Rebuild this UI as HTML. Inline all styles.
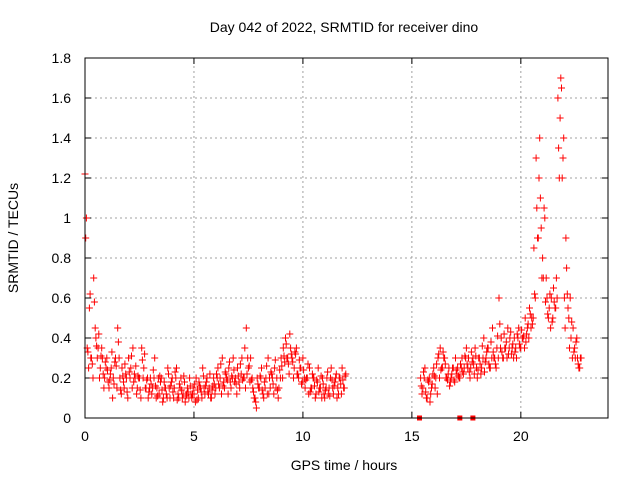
<!DOCTYPE html>
<html><head><meta charset="utf-8">
<style>
html,body{margin:0;padding:0;background:#fff;}
svg{display:block;font-family:"Liberation Sans",sans-serif;}
</style></head>
<body>
<svg id="chart" width="640" height="480" viewBox="0 0 640 480" xmlns="http://www.w3.org/2000/svg">
<rect x="0" y="0" width="640" height="480" fill="#fff"/>
<text x="344" y="32" font-size="14" text-anchor="middle" fill="#000">Day 042 of 2022, SRMTID for receiver dino</text>
<text transform="translate(18,238) rotate(-90)" font-size="14" text-anchor="middle" fill="#000">SRMTID / TECUs</text>
<text x="344" y="470" font-size="14" text-anchor="middle" fill="#000">GPS time / hours</text>
<g id="grid"></g>
<g id="ticks"></g>
<g id="marks"></g>
<rect x="85" y="58" width="523" height="360" fill="none" stroke="#000" stroke-width="1"/>
</svg>
<script>
const xTicks=[0,5,10,15,20];
const yTicks=[0,0.2,0.4,0.6,0.8,1,1.2,1.4,1.6,1.8];
const yTickLabels=["0","0.2","0.4","0.6","0.8","1","1.2","1.4","1.6","1.8"];
const seg1Start=0, seg2Start=15.4, step=0.1;
const seg1Hi=[1.22,0.35,0.55,0.3,0.7,0.4,0.35,0.25,0.3,0.2,0.3,0.15,0.25,0.2,0.3,0.45,0.2,0.25,0.15,0.2,0.3,0.25,0.35,0.2,0.15,0.2,0.35,0.25,0.15,0.1,0.2,0.15,0.3,0.15,0.12,0.2,0.1,0.15,0.25,0.1,0.2,0.15,0.25,0.1,0.2,0.12,0.08,0.15,0.2,0.1,0.12,0.2,0.1,0.15,0.25,0.12,0.2,0.15,0.1,0.2,0.15,0.25,0.2,0.3,0.15,0.2,0.25,0.15,0.3,0.2,0.25,0.15,0.3,0.2,0.45,0.25,0.3,0.15,0.1,0.2,0.15,0.25,0.1,0.2,0.3,0.15,0.2,0.25,0.2,0.15,0.3,0.35,0.4,0.3,0.42,0.3,0.25,0.35,0.2,0.25,0.3,0.15,0.2,0.25,0.15,0.2,0.12,0.25,0.15,0.2,0.1,0.2,0.15,0.25,0.12,0.2,0.15,0.2,0.25,0.15];
const seg1Lo=[1.0,0.25,0.3,0.2,0.45,0.3,0.2,0.35,0.15,0.25,0.18,0.22,0.1,0.28,0.15,0.3,0.12,0.18,0.22,0.1,0.2,0.15,0.22,0.12,0.2,0.1,0.2,0.15,0.2,0.15,0.12,0.2,0.1,0.2,0.18,0.08,0.15,0.1,0.15,0.18,0.1,0.2,0.12,0.15,0.1,0.18,0.12,0.1,0.12,0.15,0.08,0.14,0.16,0.1,0.15,0.18,0.12,0.1,0.16,0.12,0.2,0.15,0.12,0.18,0.22,0.12,0.18,0.2,0.18,0.12,0.18,0.22,0.2,0.15,0.3,0.18,0.2,0.1,0.05,0.15,0.2,0.12,0.15,0.12,0.2,0.22,0.12,0.15,0.1,0.2,0.2,0.28,0.3,0.22,0.32,0.2,0.32,0.22,0.25,0.18,0.2,0.2,0.12,0.15,0.2,0.1,0.18,0.15,0.1,0.12,0.15,0.12,0.2,0.15,0.18,0.1,0.2,0.12,0.15,0.22];
const seg1Mid=[0.9,0.33,0.62,0.27,0.58,0.36,0.42,0.31,0.22,0.28,0.24,0.19,0.33,0.17,0.26,0.38,0.14,0.21,0.27,0.13,0.23,0.31,0.18,0.26,0.21,0.14,0.29,0.32,0.19,0.13,0.17,0.24,0.16,0.11,0.21,0.14,0.18,0.12,0.22,0.16,0.13,0.23,0.09,0.17,0.14,0.21,0.11,0.13,0.16,0.12,0.17,0.09,0.18,0.13,0.21,0.16,0.13,0.22,0.14,0.17,0.22,0.17,0.27,0.16,0.23,0.19,0.28,0.21,0.24,0.17,0.21,0.27,0.19,0.35,0.22,0.26,0.19,0.13,0.08,0.17,0.21,0.14,0.18,0.26,0.12,0.23,0.17,0.29,0.14,0.24,0.26,0.31,0.37,0.27,0.35,0.28,0.33,0.22,0.29,0.17,0.24,0.19,0.27,0.13,0.22,0.16,0.19,0.13,0.21,0.17,0.14,0.23,0.11,0.19,0.16,0.22,0.12,0.17,0.19,0.21];
const seg2Hi=[0.2,0.15,0.25,0.1,0.2,0.15,0.25,0.2,0.3,0.35,0.25,0.3,0.2,0.25,0.2,0.25,0.3,0.25,0.2,0.3,0.25,0.35,0.3,0.25,0.3,0.35,0.2,0.3,0.25,0.4,0.3,0.35,0.25,0.45,0.3,0.35,0.6,0.4,0.3,0.35,0.45,0.4,0.35,0.4,0.3,0.45,0.35,0.4,0.5,0.45,0.55,0.5,0.85,1.3,0.9,1.1,0.8,1.0,0.6,0.55,0.6,0.65,0.55,1.6,1.5,1.2,0.6,0.75,0.5,0.4,0.45,0.3,0.3,0.25];
const seg2Lo=[0.12,0.2,0.1,0.18,0.12,0.22,0.15,0.12,0.2,0.25,0.3,0.2,0.22,0.18,0.25,0.18,0.22,0.2,0.25,0.22,0.3,0.25,0.2,0.28,0.22,0.25,0.3,0.22,0.3,0.28,0.35,0.25,0.3,0.3,0.25,0.3,0.35,0.3,0.35,0.3,0.35,0.32,0.3,0.35,0.4,0.35,0.4,0.35,0.42,0.4,0.45,0.5,0.6,0.9,1.4,0.7,1.05,0.7,0.5,0.45,0.5,0.55,0.6,1.2,1.65,1.4,0.9,0.55,0.6,0.3,0.35,0.4,0.25,0.3];
const seg2Mid=[0.16,0.23,0.13,0.19,0.08,0.17,0.21,0.27,0.32,0.24,0.33,0.27,0.19,0.16,0.22,0.19,0.24,0.21,0.27,0.23,0.31,0.27,0.23,0.33,0.27,0.31,0.24,0.27,0.36,0.23,0.33,0.27,0.38,0.33,0.27,0.41,0.47,0.33,0.42,0.38,0.32,0.43,0.37,0.33,0.42,0.37,0.44,0.41,0.38,0.47,0.52,0.47,0.62,1.05,1.2,0.95,0.7,0.58,0.52,0.62,0.48,0.58,0.7,1.35,1.7,1.3,0.45,0.62,0.35,0.48,0.33,0.38,0.27,0.3];
const zeroMarks=[15.35,17.2,17.8];
const X0=85,X1=608,Y0=418,Y1=58,XMAX=24,YMAX=1.8;
const xs=v=>X0+v/XMAX*(X1-X0);
const ys=v=>Y0-v/YMAX*(Y0-Y1);
const NS="http://www.w3.org/2000/svg";
function mk(tag,attrs,parent){const e=document.createElementNS(NS,tag);for(const k in attrs)e.setAttribute(k,attrs[k]);parent.appendChild(e);return e;}
const grid=document.getElementById('grid'),ticks=document.getElementById('ticks'),marks=document.getElementById('marks');
yTicks.forEach((v,i)=>{
  const y=ys(v);
  if(i>0&&i<yTicks.length-1){const g=mk('line',{x1:X0,x2:X1,y1:y,y2:y,stroke:'#a0a0a0','stroke-dasharray':'2,3'},grid);
  
  }
  mk('line',{x1:X0,x2:X0+6,y1:y,y2:y,stroke:'#000'},ticks);
  mk('line',{x1:X1,x2:X1-6,y1:y,y2:y,stroke:'#000'},ticks);
  const t=mk('text',{x:X0-14,y:y+5,'font-size':14,'text-anchor':'end'},ticks);
  t.textContent=yTickLabels[i];
  
  
});
xTicks.forEach(v=>{
  const x=xs(v);
  if(v>0){const g=mk('line',{x1:x,x2:x,y1:Y0,y2:Y1,stroke:'#a0a0a0','stroke-dasharray':'2,3'},grid);
  
  }
  mk('line',{x1:x,x2:x,y1:Y0,y2:Y0-6,stroke:'#000'},ticks);
  mk('line',{x1:x,x2:x,y1:Y1,y2:Y1+6,stroke:'#000'},ticks);
  const t=mk('text',{x:x,y:Y0+23,'font-size':14,'text-anchor':'middle'},ticks);
  t.textContent=String(v);
  
  
});
let d='';
function plus(t,v){const x=xs(t),y=ys(v);d+=`M${(x-3.5).toFixed(1)} ${y.toFixed(1)}h7M${x.toFixed(1)} ${(y-3.5).toFixed(1)}v7`;}
seg1Hi.forEach((v,i)=>plus(seg1Start+i*step,v));
seg1Mid.forEach((v,i)=>plus(seg1Start+i*step+0.033,v));
seg1Lo.forEach((v,i)=>plus(seg1Start+i*step+0.066,v));
seg2Hi.forEach((v,i)=>plus(seg2Start+i*step,v));
seg2Mid.forEach((v,i)=>plus(seg2Start+i*step+0.033,v));
seg2Lo.forEach((v,i)=>plus(seg2Start+i*step+0.066,v));
const p=mk('path',{d:d,stroke:'#ff0000','stroke-width':1,fill:'none'},marks);


zeroMarks.forEach(t=>{
  const r=mk('rect',{x:xs(t)-2.5,y:ys(0)-2.5,width:5,height:5,fill:'#ff0000'},marks);
  
  
});
</script>
</body></html>
